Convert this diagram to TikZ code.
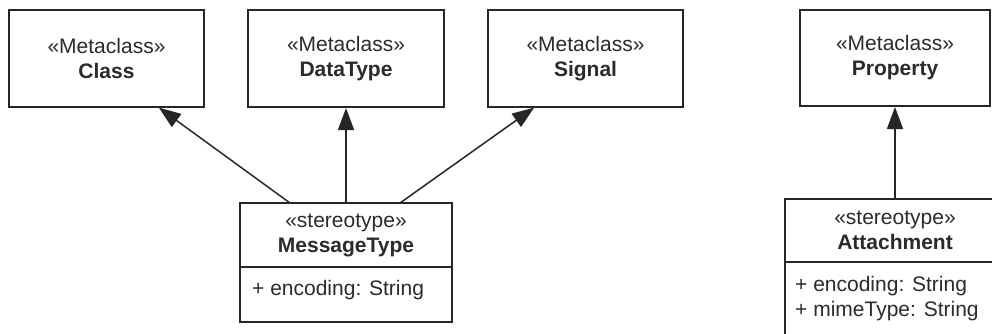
\documentclass[tikz,border=0pt]{standalone}
\usepackage{fontspec}
\setmainfont{Liberation Sans}
\usetikzlibrary{arrows.meta}
\definecolor{ink}{HTML}{262626}
\definecolor{txt}{HTML}{2B2B2B}
\tikzset{
  umlbox/.style={draw=ink, line width=1.8pt, fill=white, rectangle, inner sep=0pt,
    outer sep=0pt, align=center, text=txt, font=\fontsize{21}{25}\selectfont},
  attr/.style={anchor=west, inner sep=0pt, text=txt, align=left,
    font=\fontsize{21}{25}\selectfont},
  gen/.style={draw=ink, line width=1.5pt, shorten >=1pt,
    -{Triangle[length=22pt,width=16pt]}},
}
\newcommand{\metabox}[1]{\guillemetleft Metaclass\guillemetright\\\textbf{#1}}
\newcommand{\stereobox}[1]{\guillemetleft stereotype\guillemetright\\\textbf{#1}}
\begin{document}
\begin{tikzpicture}[x=1pt, y=-1pt]
  \clip (0,0) rectangle (992,333);
  \fill[white] (0,0) rectangle (992,333);

  % metaclasses
  \node[umlbox, minimum width=195pt, minimum height=97pt] (class) at (106.5,58.5) {\metabox{Class}};
  \node[umlbox, minimum width=196pt, minimum height=97pt] (dtype) at (346,58.5) {\metabox{DataType}};
  \node[umlbox, minimum width=195pt, minimum height=97pt] (signal) at (585.5,58.5) {\metabox{Signal}};
  \node[umlbox, minimum width=190pt, minimum height=96pt] (prop) at (895,58) {\metabox{Property}};

  % stereotype MessageType
  \node[umlbox, minimum width=212pt, minimum height=64pt] (mt) at (346,235) {\stereobox{MessageType}};
  \node[umlbox, anchor=north, minimum width=212pt, minimum height=55pt] (mtattr) at (mt.south) {};
  \node[attr] (mtenc) at (252,290) {+ encoding: String};

  % stereotype Attachment
  \node[umlbox, minimum width=220pt, minimum height=63pt] (att) at (895,230.5) {\stereobox{Attachment}};
  \node[umlbox, anchor=north, minimum width=220pt, minimum height=90pt] (attattr) at (att.south) {};
  \node[attr] (attenc) at (795,286) {+ encoding: String};
  \node[attr] (attmime) at (795,311) {+ mimeType: String};

  % generalisations
  \draw[gen] ([xshift=50pt]mt.north west) -- ([xshift=149pt]class.south west);
  \draw[gen] (mt.north) -- (dtype.south);
  \draw[gen] ([xshift=-52pt]mt.north east) -- ([xshift=47pt]signal.south west);
  \draw[gen] (att.north) -- (prop.south);
\end{tikzpicture}
\end{document}
